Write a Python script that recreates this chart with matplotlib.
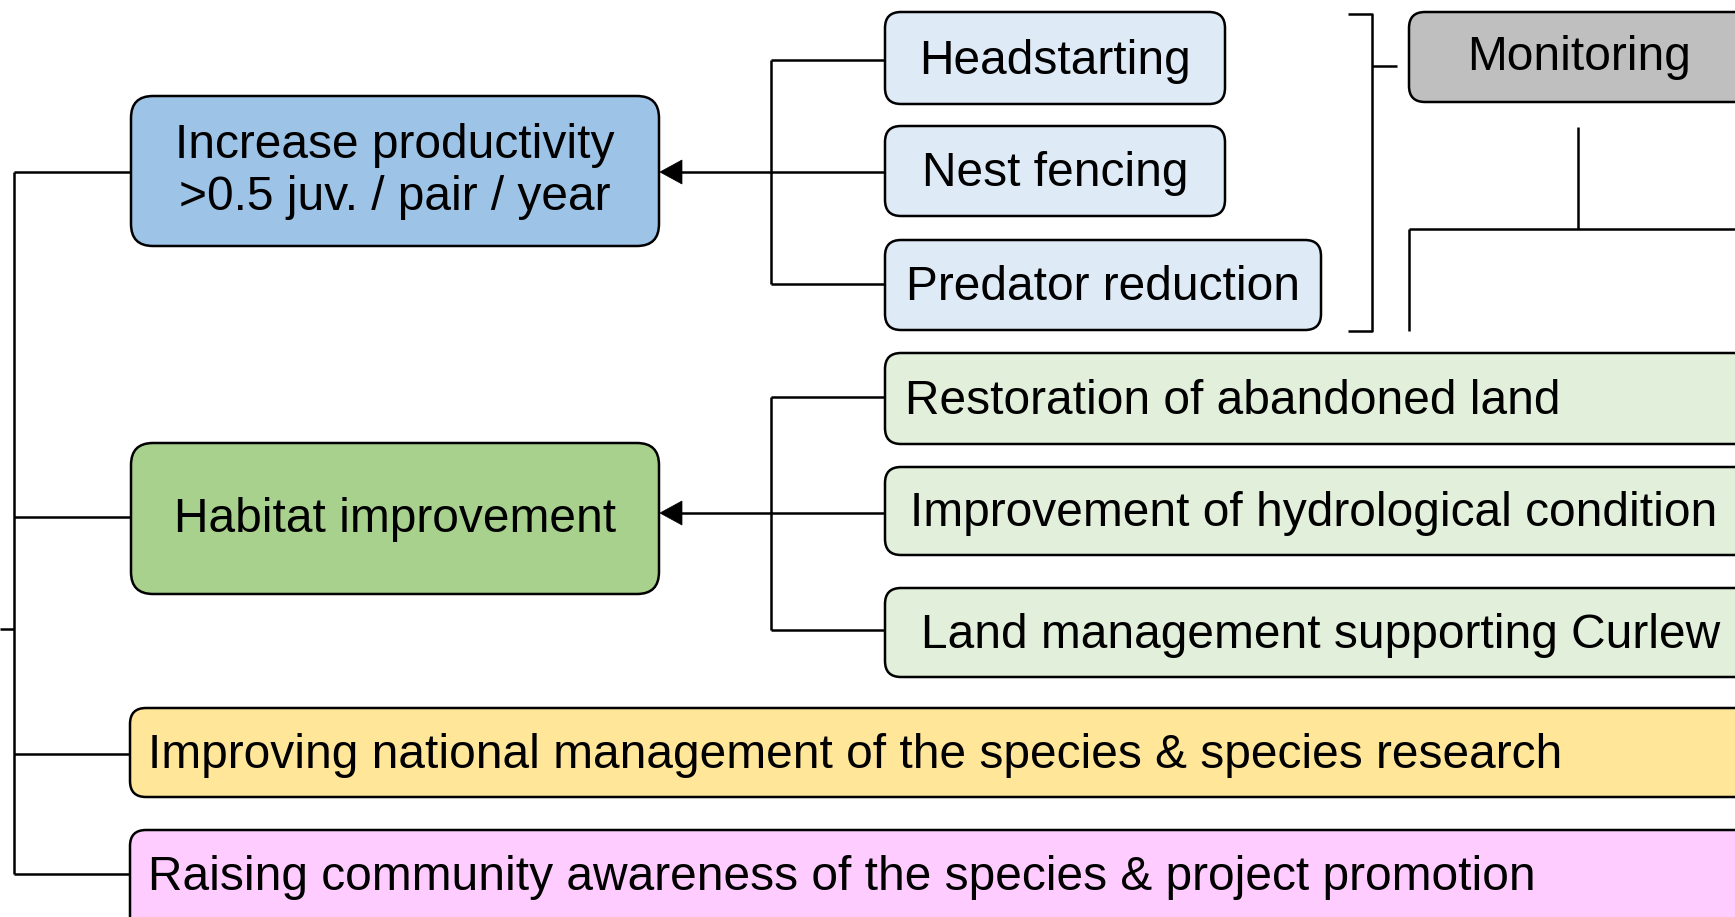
import matplotlib.pyplot as plt
from matplotlib.patches import FancyBboxPatch, Polygon

plt.rcParams['font.family'] = ['Liberation Sans', 'DejaVu Sans']

# Texte der Kästen
haupt_ziele = ['Increase productivity\n>0.5 juv. / pair / year', 'Habitat improvement']
massnahmen_prod = ['Headstarting', 'Nest fencing', 'Predator reduction']
massnahmen_habitat = ['Restoration of abandoned land',
                      'Improvement of hydrological condition',
                      'Land management supporting Curlew']
breite_ziele = ['Improving national management of the species & species research',
                'Raising community awareness of the species & project promotion']
monitoring = 'Monitoring'

# Farben
farbe_haupt = ['#9DC3E6', '#A9D18E']
farbe_prod = '#DEEBF7'
farbe_habitat = '#E2EFDA'
farbe_breit = ['#FFE699', '#FFCCFF']
farbe_monitoring = '#BFBFBF'

# Layout in Pixeln (x0, y0, x1, y1)
box_haupt = [(131, 96, 659, 246), (131, 443, 659, 594)]
box_prod = [(885, 12, 1225, 104), (885, 126, 1225, 216), (885, 240, 1321, 330)]
box_habitat = [(885, 353, 1760, 444), (885, 467, 1760, 555), (885, 588, 1760, 677)]
box_breit = [(130, 708, 1760, 797), (130, 830, 1760, 940)]
box_monitoring = (1409, 12, 1760, 102)

fs = 34.5
lw = 1.8

fig = plt.figure(figsize=(17.35, 9.17), dpi=100)
ax = fig.add_axes([0, 0, 1, 1])
ax.set_xlim(0, 1735)
ax.set_ylim(917, 0)
ax.axis('off')


def kasten(b, farbe, r=16):
    x0, y0, x1, y1 = b
    p = FancyBboxPatch((x0, y0), x1 - x0, y1 - y0,
                       boxstyle=f'round,pad=0,rounding_size={r}',
                       fc=farbe, ec='black', lw=lw, zorder=2)
    ax.add_patch(p)


def linie(xs, ys):
    ax.plot(xs, ys, color='black', lw=lw, solid_capstyle='butt', zorder=1)


def pfeil(x_start, x_spitze, y):
    linie([x_start, x_spitze + 20], [y, y])
    ax.add_patch(Polygon([(x_spitze, y), (x_spitze + 22, y - 12), (x_spitze + 22, y + 12)],
                         closed=True, fc='black', ec='black', lw=0.5, zorder=3))


# Hauptziele
for b, f, t in zip(box_haupt, farbe_haupt, haupt_ziele):
    kasten(b, f, r=22)
    ax.text((b[0] + b[2]) / 2, (b[1] + b[3]) / 2 + 1, t, fontsize=fs,
            ha='center', va='center', linespacing=1.2, zorder=4)

# Maßnahmen Produktivität
for b, t in zip(box_prod, massnahmen_prod):
    kasten(b, farbe_prod)
    ax.text((b[0] + b[2]) / 2, (b[1] + b[3]) / 2 + 3, t, fontsize=fs,
            ha='center', va='center', zorder=4)

# Maßnahmen Habitat
text_x_habitat = [905, 910, 921]
for b, t, tx in zip(box_habitat, massnahmen_habitat, text_x_habitat):
    kasten(b, farbe_habitat)
    ax.text(tx, (b[1] + b[3]) / 2 + 3, t, fontsize=fs,
            ha='left', va='center', zorder=4)

# breite Ziele
for b, f, t in zip(box_breit, farbe_breit, breite_ziele):
    kasten(b, f)
    ax.text(148, b[1] + 48, t, fontsize=fs, ha='left', va='center', zorder=4)

# Monitoring
kasten(box_monitoring, farbe_monitoring)
ax.text(1579, 58, monitoring, fontsize=fs, ha='center', va='center', zorder=4)

# Verbindungen links
linie([14, 14], [172, 874])
for y, x1 in zip([172, 517, 754, 874], [131, 131, 130, 130]):
    linie([14, x1], [y, y])
linie([0, 14], [629, 629])

# Verbindungen rechts (Produktivität)
linie([771, 771], [60, 284])
for y in [60, 172, 284]:
    linie([771, 885], [y, y])
pfeil(771, 660, 172)

# Verbindungen rechts (Habitat)
linie([771, 771], [397, 630])
for y in [397, 513, 630]:
    linie([771, 885], [y, y])
pfeil(771, 660, 513)

# Klammer und Monitoring-Verbindungen
linie([1348, 1372, 1372, 1348], [14, 14, 331, 331])
linie([1372, 1397], [66, 66])
linie([1578, 1578], [127, 229])
linie([1409, 1760], [229, 229])
linie([1409, 1409], [229, 331])

fig.savefig('out.png', dpi=100)
